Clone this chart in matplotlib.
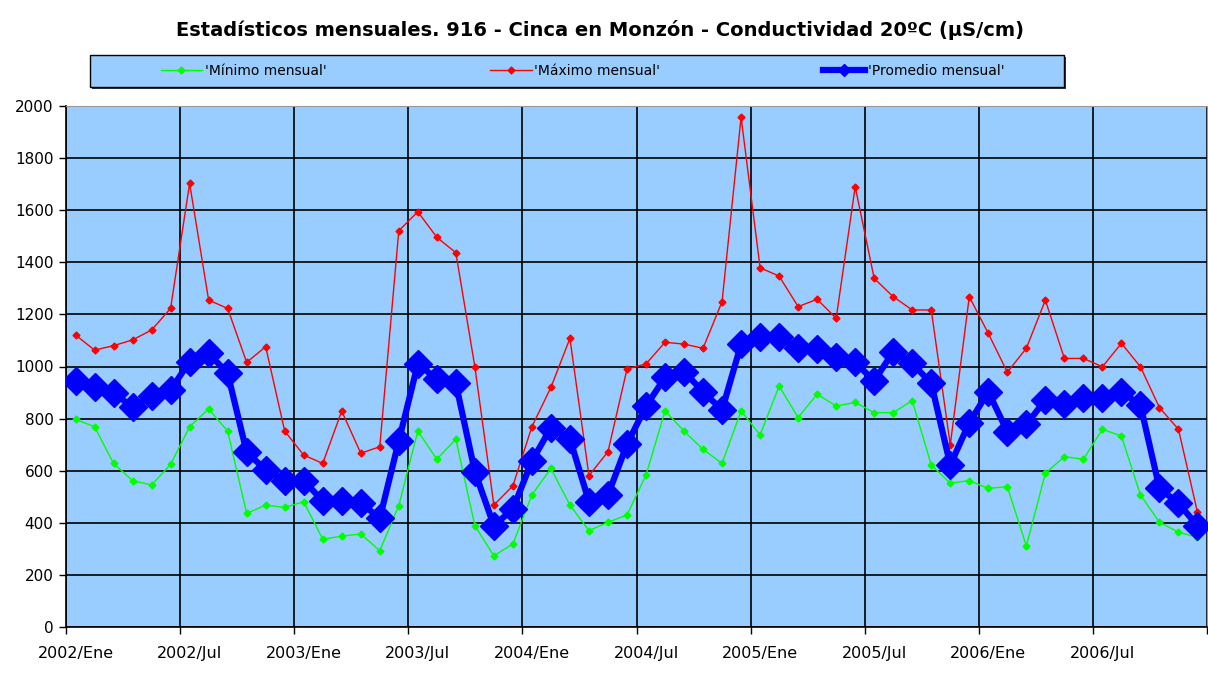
import matplotlib
matplotlib.use("Agg")
import matplotlib.pyplot as plt
from matplotlib.patches import Rectangle
from matplotlib.lines import Line2D
import numpy as np

tick_labels = ["2002/Ene", "2002/Jul", "2003/Ene", "2003/Jul", "2004/Ene",
               "2004/Jul", "2005/Ene", "2005/Jul", "2006/Ene", "2006/Jul"]

minimo = [797, 769, 628, 562, 545, 624, 769, 837, 752, 436, 468, 459,
          481, 337, 349, 357, 293, 466, 752, 644, 721, 389, 273, 319,
          507, 609, 468, 370, 402, 430, 583, 830, 752, 682, 628, 830,
          737, 925, 804, 894, 848, 862, 823, 823, 869, 622, 552, 562,
          532, 539, 311, 590, 654, 644, 759, 733, 507, 402, 364, 344]

maximo = [1121, 1063, 1080, 1102, 1140, 1223, 1703, 1255, 1223, 1016, 1076, 752,
          660, 628, 829, 667, 692, 1521, 1594, 1496, 1437, 999, 468, 542,
          769, 920, 1108, 581, 673, 990, 1010, 1093, 1086, 1070, 1249, 1957,
          1379, 1347, 1230, 1258, 1185, 1690, 1338, 1268, 1217, 1217, 699, 1268,
          1127, 978, 1070, 1255, 1031, 1031, 999, 1089, 999, 842, 759, 440]

promedio = [946, 920, 900, 843, 888, 910, 1019, 1051, 974, 671, 603, 562,
            562, 484, 485, 477, 417, 714, 1010, 952, 935, 596, 389, 453,
            637, 765, 722, 481, 507, 701, 848, 958, 980, 903, 833, 1086,
            1112, 1112, 1070, 1068, 1038, 1016, 944, 1057, 1012, 935, 622, 784,
            903, 750, 778, 871, 856, 880, 880, 903, 852, 532, 475, 389]

labels = ["'Mínimo mensual'", "'Máximo mensual'", "'Promedio mensual'"]
title = "Estadísticos mensuales. 916 - Cinca en Monzón - Conductividad 20ºC (µS/cm)"

W, H = 1208, 674
fig = plt.figure(figsize=(W / 100, H / 100), dpi=100)
fig.patch.set_facecolor("white")

ax = fig.add_axes([66 / W, 1 - 627 / H, (1207 - 66) / W, (627 - 106) / H])
ax.set_facecolor("#99CCFF")

x = np.arange(len(promedio))
ax.plot(x, minimo, color="#00FF00", lw=1.0, marker="D", ms=3.5, zorder=3)
ax.plot(x, maximo, color="#FF0000", lw=1.0, marker="D", ms=3.5, zorder=3)
ax.plot(x, promedio, color="#0000FF", lw=4.5, marker="D", ms=14, zorder=4)

ax.set_xlim(-0.5, len(promedio) - 0.5)
ax.set_ylim(0, 2000)
ax.set_yticks(np.arange(0, 2001, 200))
ax.set_xticks(np.arange(-0.5, len(promedio), 6))
ax.set_xticks(np.arange(0, len(promedio), 6), minor=True)
ax.set_xticklabels([])
ax.set_xticklabels(tick_labels, minor=True)
ax.tick_params(axis="x", which="minor", length=0, pad=14, labelsize=11.5)
ax.tick_params(axis="x", which="major", length=5, width=1, color="black")
ax.tick_params(axis="y", length=5, width=1, labelsize=11, pad=4)
ax.grid(True, which="major", color="black", lw=1.2, zorder=1)
ax.set_axisbelow(True)

for s in ["left", "bottom"]:
    ax.spines[s].set_color("black")
    ax.spines[s].set_linewidth(1.2)
ax.spines["top"].set_color("#999999")
ax.spines["right"].set_color("#999999")

fig.text(0.5 * (178 + 1022) / W, 1 - 30 / H, title, ha="center", va="center",
         fontsize=14, fontweight="bold")

# legend box with shadow
shadow = Rectangle((92 / W, 1 - 89 / H), (1064 - 90) / W, (87 - 55) / H,
                   transform=fig.transFigure, facecolor="#333333", edgecolor="none")
box = Rectangle((90 / W, 1 - 87 / H), (1064 - 90) / W, (87 - 55) / H,
                transform=fig.transFigure, facecolor="#99CCFF", edgecolor="black", lw=1)
fig.patches.extend([shadow, box])

handles = [
    Line2D([], [], color="#00FF00", lw=1.0, marker="D", ms=3.5),
    Line2D([], [], color="#FF0000", lw=1.0, marker="D", ms=3.5),
    Line2D([], [], color="#0000FF", lw=4.5, marker="D", ms=6),
]
fig.legend(handles, labels, loc="center", ncol=3, mode="expand",
           bbox_to_anchor=(155 / W, 1 - 87 / H, (1010 - 155) / W, (87 - 55) / H),
           frameon=False, fontsize=10, handlelength=3, handletextpad=0.2,
           borderaxespad=0)

fig.savefig("out.png", dpi=100)
